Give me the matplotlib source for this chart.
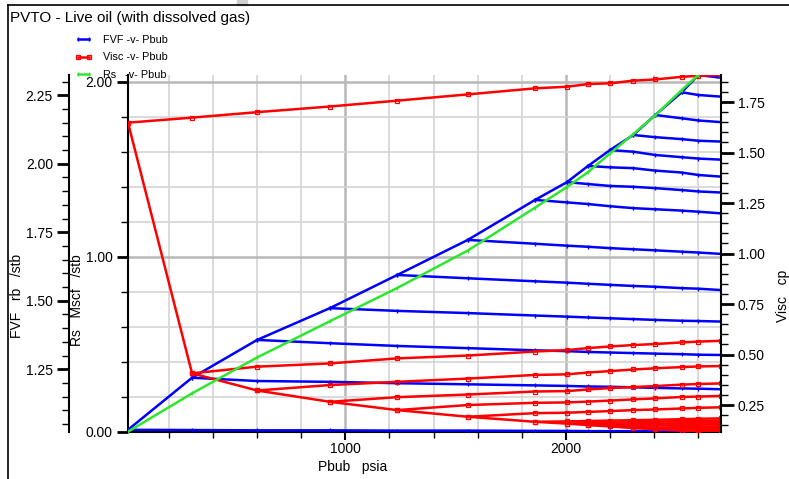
import matplotlib
matplotlib.use('Agg')
import matplotlib.pyplot as plt
from matplotlib.ticker import MultipleLocator, FormatStrFormatter
from matplotlib.legend_handler import HandlerLine2D
from matplotlib.lines import Line2D
from matplotlib.patches import Rectangle

plt.rcParams['font.family'] = ['Liberation Sans Narrow', 'Liberation Sans', 'DejaVu Sans']

# Bubble point pressures (psia) and top pressure of the undersaturated rows
pbub = [14.7, 305, 600, 930, 1235, 1555, 1860, 2005, 2100, 2200, 2305, 2405, 2525, 2600]
p_max = 2703

# Rs at bubble point (Mscf/stb)
rs_sat = [0.0, 0.219, 0.424, 0.631, 0.821, 1.035, 1.28, 1.398, 1.483, 1.59, 1.70, 1.808, 1.952, 2.038]

# FVF rows: one row per bubble point, values at pbub[i:] + [p_max]
fvf_rows = [
    [1.029, 1.028, 1.027, 1.027, 1.026, 1.026, 1.025, 1.025, 1.024, 1.024, 1.024, 1.023, 1.023, 1.023, 1.022],
    [1.219, 1.207, 1.204, 1.199, 1.195, 1.191, 1.189, 1.187, 1.186, 1.184, 1.182, 1.180, 1.179, 1.177],
    [1.357, 1.345, 1.335, 1.327, 1.319, 1.316, 1.313, 1.311, 1.309, 1.307, 1.305, 1.303, 1.302],
    [1.473, 1.463, 1.455, 1.446, 1.442, 1.439, 1.436, 1.433, 1.430, 1.427, 1.426, 1.424],
    [1.594, 1.582, 1.571, 1.566, 1.562, 1.558, 1.554, 1.551, 1.546, 1.544, 1.539],
    [1.722, 1.708, 1.701, 1.697, 1.692, 1.688, 1.684, 1.679, 1.676, 1.671],
    [1.868, 1.859, 1.853, 1.845, 1.838, 1.834, 1.829, 1.825, 1.819],
    [1.933, 1.926, 1.919, 1.916, 1.911, 1.904, 1.899, 1.895],
    [1.992, 1.987, 1.984, 1.975, 1.968, 1.959, 1.953],
    [2.050, 2.044, 2.032, 2.024, 2.019, 2.015],
    [2.105, 2.097, 2.090, 2.084, 2.081],
    [2.178, 2.166, 2.158, 2.152],
    [2.261, 2.251, 2.245],
    [2.324, 2.314],
]

# Viscosity rows (cp), same layout
visc_rows = [
    [1.648, 1.673, 1.700, 1.728, 1.757, 1.788, 1.818, 1.826, 1.839, 1.843, 1.856, 1.862, 1.875, 1.880, 1.884],
    [0.407, 0.440, 0.456, 0.481, 0.495, 0.515, 0.522, 0.532, 0.540, 0.547, 0.552, 0.560, 0.564, 0.568],
    [0.322, 0.349, 0.365, 0.381, 0.399, 0.402, 0.411, 0.418, 0.426, 0.432, 0.438, 0.441, 0.443],
    [0.266, 0.289, 0.302, 0.317, 0.319, 0.327, 0.334, 0.339, 0.344, 0.351, 0.354, 0.357],
    [0.225, 0.250, 0.261, 0.263, 0.267, 0.272, 0.278, 0.283, 0.290, 0.292, 0.295],
    [0.192, 0.210, 0.212, 0.216, 0.220, 0.225, 0.228, 0.233, 0.236, 0.239],
    [0.167, 0.169, 0.171, 0.173, 0.175, 0.177, 0.180, 0.182, 0.184],
    [0.158, 0.160, 0.162, 0.165, 0.167, 0.170, 0.171, 0.173],
    [0.151, 0.153, 0.155, 0.157, 0.160, 0.162, 0.164],
    [0.144, 0.146, 0.148, 0.151, 0.153, 0.155],
    [0.136, 0.138, 0.141, 0.143, 0.145],
    [0.130, 0.133, 0.135, 0.137],
    [0.123, 0.125, 0.128],
    [0.118, 0.121],
]

BLUE = '#0000ff'
RED = '#ff0000'
GREEN = '#2ee62e'
LW = 1.8

W, H = 789, 479
fig = plt.figure(figsize=(W / 100, H / 100), dpi=100)
fig.patch.set_facecolor('white')

left, right, top, bottom = 128, 721, 75, 431.7
ax_rs = fig.add_axes([left / W, 1 - bottom / H, (right - left) / W, (bottom - top) / H])
ax_fvf = ax_rs.twinx()
ax_visc = ax_rs.twinx()
ax_top = ax_rs.twinx()   # holds the green line so it sits above the others

# FVF (blue)
for i, row in enumerate(fvf_rows):
    p = pbub[i:] + [p_max]
    ax_fvf.plot(p, row, color=BLUE, lw=LW, marker='|', ms=3, mew=1)
sat_fvf = [row[0] for row in fvf_rows]
l_fvf, = ax_fvf.plot(pbub, sat_fvf, color=BLUE, lw=LW, marker='|', ms=3, mew=1)

# Viscosity (red)
for i, row in enumerate(visc_rows):
    p = pbub[i:] + [p_max]
    ax_visc.plot(p, row, color=RED, lw=LW, marker='s', ms=3, mfc='none', mew=0.9)
sat_visc = [row[0] for row in visc_rows]
l_visc, = ax_visc.plot(pbub, sat_visc, color=RED, lw=LW, marker='s', ms=3, mfc='none', mew=0.9)

# Rs (green)
l_rs, = ax_top.plot(pbub, rs_sat, color=GREEN, lw=LW, marker='|', ms=3, mew=1)

# limits fitted to the data
ax_rs.set_xlim(pbub[0], p_max)
ax_rs.set_ylim(min(rs_sat), max(rs_sat))
ax_top.set_ylim(ax_rs.get_ylim())
all_fvf = [v for row in fvf_rows for v in row]
all_visc = [v for row in visc_rows for v in row]
ax_fvf.set_ylim(min(all_fvf), max(all_fvf))
ax_visc.set_ylim(min(all_visc), max(all_visc))
ax_top.axis('off')

# grid on the Rs axis
ax_rs.xaxis.set_major_locator(MultipleLocator(1000))
ax_rs.xaxis.set_minor_locator(MultipleLocator(200))
ax_rs.yaxis.set_major_locator(MultipleLocator(1.0))
ax_rs.yaxis.set_minor_locator(MultipleLocator(0.2))
ax_rs.yaxis.set_major_formatter(FormatStrFormatter('%.2f'))
ax_rs.grid(which='minor', color='#d4d4d4', lw=1.2)
ax_rs.grid(which='major', color='#b8b8b8', lw=1.8)
ax_rs.set_axisbelow(True)

for a in (ax_fvf, ax_visc):
    a.yaxis.set_major_locator(MultipleLocator(0.25))
    a.yaxis.set_minor_locator(MultipleLocator(0.05))
    a.yaxis.set_major_formatter(FormatStrFormatter('%.2f'))

ax_rs.spines['top'].set_visible(False)
ax_rs.spines['right'].set_visible(False)
for a in (ax_fvf, ax_visc):
    a.spines['top'].set_visible(False)
    a.spines['bottom'].set_visible(False)
ax_fvf.spines['right'].set_visible(False)
ax_fvf.spines['left'].set_position(('outward', 42.5))
ax_fvf.yaxis.set_ticks_position('left')
ax_fvf.yaxis.set_label_position('left')
ax_visc.spines['left'].set_visible(False)

for a in (ax_rs, ax_fvf, ax_visc):
    for s in a.spines.values():
        s.set_linewidth(1.5)

ax_rs.tick_params(axis='y', which='major', direction='out', length=8, width=2, labelsize=10, pad=3)
ax_rs.tick_params(axis='y', which='minor', direction='out', length=5, width=1)
ax_rs.tick_params(axis='x', which='major', direction='out', length=6, width=1.5, labelsize=10, pad=1.5)
ax_rs.tick_params(axis='x', which='minor', direction='out', length=4, width=1)
ax_fvf.tick_params(axis='y', which='major', direction='out', length=8.5, width=2, labelsize=10, pad=3)
ax_fvf.tick_params(axis='y', which='minor', direction='out', length=5, width=1)
ax_visc.tick_params(axis='y', which='major', direction='out', length=9, width=2, labelsize=10, pad=3)
ax_visc.tick_params(axis='y', which='minor', direction='out', length=5, width=1)

ax_rs.set_xlabel('Pbub   psia', fontsize=10)
ax_rs.xaxis.set_label_coords(0.378, -0.08)
ax_rs.set_ylabel('Rs   Mscf   /stb', fontsize=10)
ax_rs.yaxis.set_label_coords(-0.074, 0.37)
ax_fvf.set_ylabel('FVF   rb   /stb', fontsize=10)
ax_fvf.yaxis.set_label_coords(-0.175, 0.38)
ax_visc.set_ylabel('Visc   cp', fontsize=10)
ax_visc.yaxis.set_label_coords(1.093, 0.38)

fig.text(10 / W, 1 - 18 / H, 'PVTO - Live oil (with dissolved gas)', fontsize=11,
         ha='left', va='center')

leg = fig.legend([l_fvf, l_visc, l_rs], ['FVF -v- Pbub', 'Visc -v- Pbub', 'Rs   -v- Pbub'],
                 loc='upper left', bbox_to_anchor=(67 / W, 1 - 35 / H), frameon=False,
                 fontsize=7.8, handlelength=3.05, handletextpad=0.28, labelspacing=0.68,
                 borderpad=0, borderaxespad=0,
                 handler_map={Line2D: HandlerLine2D(marker_pad=1.0, numpoints=2)})

# page frame and the small grey mark at the top
fig.add_artist(Line2D([8 / W, 8 / W], [0, 1 - 5 / H], color='black', lw=1.2, transform=fig.transFigure))
fig.add_artist(Line2D([8 / W, 1], [1 - 5 / H, 1 - 5 / H], color='black', lw=1.2, transform=fig.transFigure))
fig.add_artist(Rectangle((237 / W, 1 - 5 / H), 10 / W, 5 / H, color='#d0d0d0', transform=fig.transFigure))

fig.savefig('out.png', dpi=100)
